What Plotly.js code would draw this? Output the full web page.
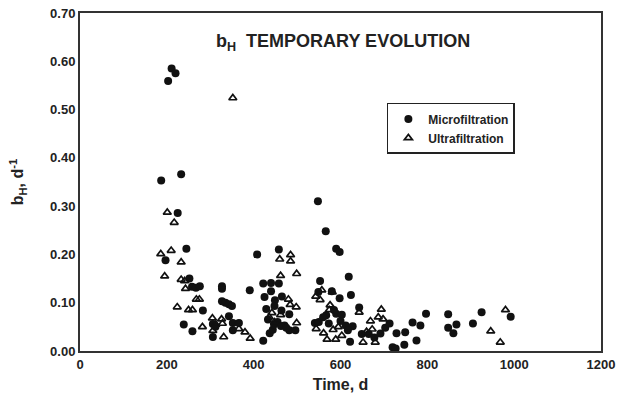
<!DOCTYPE html>
<html>
<head>
<meta charset="utf-8">
<script src="https://cdn.plot.ly/plotly-3.0.1.min.js"></script>
<style>html,body{margin:0;padding:0;background:#fff;}#chart{width:621px;height:405px;}</style>
</head>
<body>
<div id="chart"></div>
<script>
var microX = [187,197,203,211,220,225,233,245,239,252,259,258,267,276,283,306,306,312,327,327,327,335,343,350,343,352,366,352,391,408,422,425,429,422,440,440,449,458,458,465,433,437,444,455,464,471,482,482,496,447,463,475,448,548,566,590,598,553,549,580,598,619,624,541,550,567,573,590,603,612,622,628,617,560,585,600,643,649,665,678,692,703,713,720,727,729,749,747,766,775,784,797,848,848,860,867,905,925,992];
var microY = [0.353,0.188,0.559,0.585,0.575,0.286,0.366,0.212,0.055,0.150,0.041,0.133,0.131,0.134,0.084,0.056,0.029,0.050,0.134,0.129,0.103,0.100,0.097,0.093,0.072,0.058,0.058,0.043,0.126,0.200,0.140,0.112,0.087,0.021,0.141,0.124,0.105,0.140,0.210,0.113,0.065,0.037,0.044,0.060,0.084,0.053,0.076,0.043,0.043,0.055,0.052,0.048,0.093,0.310,0.248,0.212,0.205,0.145,0.122,0.124,0.109,0.154,0.116,0.058,0.060,0.074,0.057,0.077,0.075,0.053,0.019,0.051,0.043,0.070,0.085,0.062,0.090,0.035,0.035,0.028,0.036,0.048,0.057,0.008,0.005,0.037,0.039,0.013,0.059,0.022,0.053,0.077,0.076,0.048,0.037,0.055,0.057,0.080,0.071];
var ultraX = [186,195,201,210,217,233,233,241,243,224,250,259,268,275,282,305,313,306,326,328,331,352,366,380,392,442,436,448,460,462,462,480,484,485,485,499,498,499,543,553,557,544,561,569,576,574,581,583,589,595,603,643,652,660,669,673,680,687,694,698,946,968,980];
var ultraY = [0.201,0.155,0.287,0.208,0.266,0.184,0.148,0.145,0.129,0.091,0.085,0.085,0.107,0.107,0.050,0.068,0.055,0.042,0.066,0.057,0.029,0.524,0.046,0.039,0.026,0.079,0.070,0.060,0.190,0.156,0.075,0.107,0.096,0.199,0.186,0.160,0.091,0.058,0.113,0.106,0.126,0.046,0.037,0.024,0.095,0.085,0.122,0.044,0.024,0.050,0.032,0.080,0.018,0.040,0.062,0.045,0.018,0.070,0.086,0.066,0.041,0.018,0.085];
var xTicks = [0,200,400,600,800,1000,1200];
var yTicks = [0.00,0.10,0.20,0.30,0.40,0.50,0.60,0.70];

var fontFam = 'Liberation Sans, Arial, sans-serif';
var traces = [
  {x: microX, y: microY, mode: 'markers', type: 'scatter', name: 'Microfiltration',
   marker: {symbol: 'circle', size: 8, color: '#111', line: {width: 0}}},
  {x: ultraX, y: ultraY, mode: 'markers', type: 'scatter', name: 'Ultrafiltration',
   marker: {symbol: 'triangle-up-open', size: 7, color: '#111', line: {width: 1.7}}}
];
var layout = {
  width: 621, height: 405,
  margin: {l: 80, r: 20, t: 13, b: 54},
  paper_bgcolor: '#fff', plot_bgcolor: '#fff',
  font: {family: fontFam, color: '#222', size: 12},
  showlegend: true,
  legend: {x: 0.589, y: 0.734, xanchor: 'left', yanchor: 'top',
    bordercolor: '#222', borderwidth: 1.5, bgcolor: '#fff',
    font: {family: fontFam, size: 12, color: '#222', weight: 'bold'},
    tracegroupgap: 2, itemwidth: 30},
  xaxis: {range: [0, 1200], tickvals: xTicks, ticktext: xTicks.map(String),
    showgrid: false, zeroline: false, showline: true, mirror: true,
    linecolor: '#333', linewidth: 2, ticks: '',
    tickfont: {family: fontFam, size: 13, color: '#222', weight: 'bold'},
    title: {text: 'Time, d', font: {family: fontFam, size: 16, color: '#222', weight: 'bold'}, standoff: 8}},
  yaxis: {range: [0, 0.70], tickvals: yTicks, ticktext: yTicks.map(function(v){return v.toFixed(2);}),
    showgrid: false, zeroline: false, showline: true, mirror: true,
    linecolor: '#333', linewidth: 2, ticks: '',
    tickfont: {family: fontFam, size: 13, color: '#222', weight: 'bold'},
    title: {text: 'b<sub>H</sub>, d<sup>-1</sup>', font: {family: fontFam, size: 16, color: '#222', weight: 'bold'}, standoff: 22}},
  annotations: [{
    xref: 'paper', yref: 'paper', x: 0.505, y: 0.914, xanchor: 'center', yanchor: 'middle',
    showarrow: false, text: 'b<sub>H</sub>  TEMPORARY EVOLUTION',
    font: {family: fontFam, size: 18, color: '#222', weight: 'bold'}
  }]
};
Plotly.newPlot('chart', traces, layout, {displayModeBar: false, staticPlot: true});
</script>
</body>
</html>
